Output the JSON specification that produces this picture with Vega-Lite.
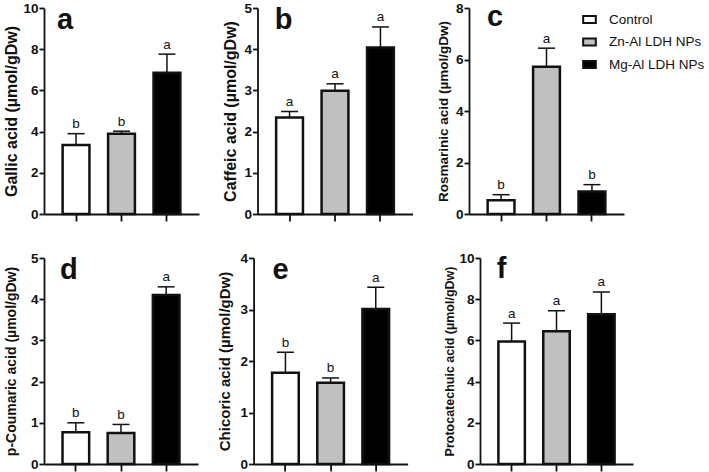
{
  "$schema": "https://vega.github.io/schema/vega-lite/v6.json",
  "padding": {"left": 3, "top": 1, "right": 0, "bottom": 0},
  "background": "white",
  "datasets": {
    "bars": [
      {"panel": "a", "group": "Control", "mean": 3.35, "upper": 3.9, "letter": "b"},
      {"panel": "a", "group": "Zn-Al LDH NPs", "mean": 3.9, "upper": 4.02, "letter": "b"},
      {"panel": "a", "group": "Mg-Al LDH NPs", "mean": 6.86, "upper": 7.76, "letter": "a"},
      {"panel": "b", "group": "Control", "mean": 2.34, "upper": 2.49, "letter": "a"},
      {"panel": "b", "group": "Zn-Al LDH NPs", "mean": 2.99, "upper": 3.16, "letter": "a"},
      {"panel": "b", "group": "Mg-Al LDH NPs", "mean": 4.04, "upper": 4.54, "letter": "a"},
      {"panel": "c", "group": "Control", "mean": 0.53, "upper": 0.75, "letter": "b"},
      {"panel": "c", "group": "Zn-Al LDH NPs", "mean": 5.72, "upper": 6.44, "letter": "a"},
      {"panel": "c", "group": "Mg-Al LDH NPs", "mean": 0.87, "upper": 1.14, "letter": "b"},
      {"panel": "d", "group": "Control", "mean": 0.77, "upper": 1.0, "letter": "b"},
      {"panel": "d", "group": "Zn-Al LDH NPs", "mean": 0.75, "upper": 0.96, "letter": "b"},
      {"panel": "d", "group": "Mg-Al LDH NPs", "mean": 4.1, "upper": 4.3, "letter": "a"},
      {"panel": "e", "group": "Control", "mean": 1.77, "upper": 2.17, "letter": "b"},
      {"panel": "e", "group": "Zn-Al LDH NPs", "mean": 1.58, "upper": 1.67, "letter": "b"},
      {"panel": "e", "group": "Mg-Al LDH NPs", "mean": 3.01, "upper": 3.43, "letter": "a"},
      {"panel": "f", "group": "Control", "mean": 5.95, "upper": 6.84, "letter": "a"},
      {"panel": "f", "group": "Zn-Al LDH NPs", "mean": 6.45, "upper": 7.44, "letter": "a"},
      {"panel": "f", "group": "Mg-Al LDH NPs", "mean": 7.27, "upper": 8.35, "letter": "a"}
    ]
  },
  "spacing": 29,
  "vconcat": [
    {
      "hconcat": [
        {
          "width": 155, "height": 206,
          "encoding": {"x": {"field": "group", "type": "nominal", "sort": ["Control", "Zn-Al LDH NPs", "Mg-Al LDH NPs"], "title": null, "scale": {"paddingInner": 0.41, "paddingOuter": 0.41}, "axis": {"labels": false}}},
          "layer": [
            {"data": {"name": "bars"}, "transform": [{"filter": "datum.panel == 'a'"}],
             "mark": {"type": "bar", "stroke": "#111", "strokeWidth": 2.5},
             "encoding": {"y": {"field": "mean", "type": "quantitative", "title": "Gallic acid (µmol/gDw)", "scale": {"domain": [0, 10], "nice": false}, "axis": {"values": [0, 2, 4, 6, 8, 10], "titleFontSize": 16, "titlePadding": 3}},
                          "fill": {"field": "group", "type": "nominal", "sort": ["Control", "Zn-Al LDH NPs", "Mg-Al LDH NPs"], "scale": {"domain": ["Control", "Zn-Al LDH NPs", "Mg-Al LDH NPs"], "range": ["#ffffff", "#c0c0c0", "#000000"]}, "legend": {"title": null}}}},
            {"data": {"name": "bars"}, "transform": [{"filter": "datum.panel == 'a'"}],
             "mark": {"type": "rule", "strokeWidth": 1.5, "color": "#111"},
             "encoding": {"y": {"field": "mean", "type": "quantitative", "title": "Gallic acid (µmol/gDw)"}, "y2": {"field": "upper"}}},
            {"data": {"name": "bars"}, "transform": [{"filter": "datum.panel == 'a'"}],
             "mark": {"type": "tick", "thickness": 1.5, "size": 17, "color": "#111", "opacity": 1},
             "encoding": {"y": {"field": "upper", "type": "quantitative", "title": "Gallic acid (µmol/gDw)"}}},
            {"data": {"name": "bars"}, "transform": [{"filter": "datum.panel == 'a'"}],
             "mark": {"type": "text", "fontSize": 13.5, "baseline": "alphabetic", "dy": -5.5, "color": "#111"},
             "encoding": {"y": {"field": "upper", "type": "quantitative", "title": "Gallic acid (µmol/gDw)"}, "text": {"field": "letter"}}},
            {"data": {"values": [{"label": "a"}]},
             "mark": {"type": "text", "fontSize": 29, "fontWeight": "bold", "baseline": "alphabetic", "dy": 21, "dx": -11, "color": "#111"},
             "encoding": {"x": {"datum": "Control"}, "y": {"datum": 10, "type": "quantitative", "title": "Gallic acid (µmol/gDw)"}, "text": {"field": "label"}}}
          ]
        },
        {
          "width": 155, "height": 206,
          "encoding": {"x": {"field": "group", "type": "nominal", "sort": ["Control", "Zn-Al LDH NPs", "Mg-Al LDH NPs"], "title": null, "scale": {"paddingInner": 0.41, "paddingOuter": 0.41}, "axis": {"labels": false}}},
          "layer": [
            {"data": {"name": "bars"}, "transform": [{"filter": "datum.panel == 'b'"}],
             "mark": {"type": "bar", "stroke": "#111", "strokeWidth": 2.5},
             "encoding": {"y": {"field": "mean", "type": "quantitative", "title": "Caffeic acid (µmol/gDw)", "scale": {"domain": [0, 5], "nice": false}, "axis": {"values": [0, 1, 2, 3, 4, 5], "titleFontSize": 16, "titlePadding": 5}},
                          "fill": {"field": "group", "type": "nominal", "sort": ["Control", "Zn-Al LDH NPs", "Mg-Al LDH NPs"], "legend": {"title": null}}}},
            {"data": {"name": "bars"}, "transform": [{"filter": "datum.panel == 'b'"}],
             "mark": {"type": "rule", "strokeWidth": 1.5, "color": "#111"},
             "encoding": {"y": {"field": "mean", "type": "quantitative", "title": "Caffeic acid (µmol/gDw)"}, "y2": {"field": "upper"}}},
            {"data": {"name": "bars"}, "transform": [{"filter": "datum.panel == 'b'"}],
             "mark": {"type": "tick", "thickness": 1.5, "size": 17, "color": "#111", "opacity": 1},
             "encoding": {"y": {"field": "upper", "type": "quantitative", "title": "Caffeic acid (µmol/gDw)"}}},
            {"data": {"name": "bars"}, "transform": [{"filter": "datum.panel == 'b'"}],
             "mark": {"type": "text", "fontSize": 13.5, "baseline": "alphabetic", "dy": -5.5, "color": "#111"},
             "encoding": {"y": {"field": "upper", "type": "quantitative", "title": "Caffeic acid (µmol/gDw)"}, "text": {"field": "letter"}}},
            {"data": {"values": [{"label": "b"}]},
             "mark": {"type": "text", "fontSize": 29, "fontWeight": "bold", "baseline": "alphabetic", "dy": 21, "dx": -6, "color": "#111"},
             "encoding": {"x": {"datum": "Control"}, "y": {"datum": 5, "type": "quantitative", "title": "Caffeic acid (µmol/gDw)"}, "text": {"field": "label"}}}
          ]
        },
        {
          "width": 155, "height": 206,
          "encoding": {"x": {"field": "group", "type": "nominal", "sort": ["Control", "Zn-Al LDH NPs", "Mg-Al LDH NPs"], "title": null, "scale": {"paddingInner": 0.41, "paddingOuter": 0.41}, "axis": {"labels": false}}},
          "layer": [
            {"data": {"name": "bars"}, "transform": [{"filter": "datum.panel == 'c'"}],
             "mark": {"type": "bar", "stroke": "#111", "strokeWidth": 2.5},
             "encoding": {"y": {"field": "mean", "type": "quantitative", "title": "Rosmarinic acid (µmol/gDw)", "scale": {"domain": [0, 8], "nice": false}, "axis": {"values": [0, 2, 4, 6, 8], "titleFontSize": 13.5, "titlePadding": 5}},
                          "fill": {"field": "group", "type": "nominal", "sort": ["Control", "Zn-Al LDH NPs", "Mg-Al LDH NPs"], "legend": {"title": null}}}},
            {"data": {"name": "bars"}, "transform": [{"filter": "datum.panel == 'c'"}],
             "mark": {"type": "rule", "strokeWidth": 1.5, "color": "#111"},
             "encoding": {"y": {"field": "mean", "type": "quantitative", "title": "Rosmarinic acid (µmol/gDw)"}, "y2": {"field": "upper"}}},
            {"data": {"name": "bars"}, "transform": [{"filter": "datum.panel == 'c'"}],
             "mark": {"type": "tick", "thickness": 1.5, "size": 17, "color": "#111", "opacity": 1},
             "encoding": {"y": {"field": "upper", "type": "quantitative", "title": "Rosmarinic acid (µmol/gDw)"}}},
            {"data": {"name": "bars"}, "transform": [{"filter": "datum.panel == 'c'"}],
             "mark": {"type": "text", "fontSize": 13.5, "baseline": "alphabetic", "dy": -5.5, "color": "#111"},
             "encoding": {"y": {"field": "upper", "type": "quantitative", "title": "Rosmarinic acid (µmol/gDw)"}, "text": {"field": "letter"}}},
            {"data": {"values": [{"label": "c"}]},
             "mark": {"type": "text", "fontSize": 29, "fontWeight": "bold", "baseline": "alphabetic", "dy": 18, "dx": -6, "color": "#111"},
             "encoding": {"x": {"datum": "Control"}, "y": {"datum": 8, "type": "quantitative", "title": "Rosmarinic acid (µmol/gDw)"}, "text": {"field": "label"}}}
          ]
        }
      ],
      "spacing": 23.5
    },
    {
      "hconcat": [
        {
          "hconcat": [
            {
              "width": 154, "height": 206,
              "encoding": {"x": {"field": "group", "type": "nominal", "sort": ["Control", "Zn-Al LDH NPs", "Mg-Al LDH NPs"], "title": null, "scale": {"paddingInner": 0.41, "paddingOuter": 0.41}, "axis": {"labels": false}}},
              "layer": [
                {"data": {"name": "bars"}, "transform": [{"filter": "datum.panel == 'd'"}],
                 "mark": {"type": "bar", "stroke": "#111", "strokeWidth": 2.5},
                 "encoding": {"y": {"field": "mean", "type": "quantitative", "title": "p-Coumaric acid (µmol/gDw)", "scale": {"domain": [0, 5], "nice": false}, "axis": {"values": [0, 1, 2, 3, 4, 5], "titleFontSize": 14, "titlePadding": 12}},
                              "fill": {"field": "group", "type": "nominal", "sort": ["Control", "Zn-Al LDH NPs", "Mg-Al LDH NPs"], "legend": {"title": null}}}},
                {"data": {"name": "bars"}, "transform": [{"filter": "datum.panel == 'd'"}],
                 "mark": {"type": "rule", "strokeWidth": 1.5, "color": "#111"},
                 "encoding": {"y": {"field": "mean", "type": "quantitative", "title": "p-Coumaric acid (µmol/gDw)"}, "y2": {"field": "upper"}}},
                {"data": {"name": "bars"}, "transform": [{"filter": "datum.panel == 'd'"}],
                 "mark": {"type": "tick", "thickness": 1.5, "size": 17, "color": "#111", "opacity": 1},
                 "encoding": {"y": {"field": "upper", "type": "quantitative", "title": "p-Coumaric acid (µmol/gDw)"}}},
                {"data": {"name": "bars"}, "transform": [{"filter": "datum.panel == 'd'"}],
                 "mark": {"type": "text", "fontSize": 13.5, "baseline": "alphabetic", "dy": -5.5, "color": "#111"},
                 "encoding": {"y": {"field": "upper", "type": "quantitative", "title": "p-Coumaric acid (µmol/gDw)"}, "text": {"field": "letter"}}},
                {"data": {"values": [{"label": "d"}]},
                 "mark": {"type": "text", "fontSize": 29, "fontWeight": "bold", "baseline": "alphabetic", "dy": 21, "dx": -7, "color": "#111"},
                 "encoding": {"x": {"datum": "Control"}, "y": {"datum": 5, "type": "quantitative", "title": "p-Coumaric acid (µmol/gDw)"}, "text": {"field": "label"}}}
              ]
            },
            {
              "width": 154, "height": 206,
              "encoding": {"x": {"field": "group", "type": "nominal", "sort": ["Control", "Zn-Al LDH NPs", "Mg-Al LDH NPs"], "title": null, "scale": {"paddingInner": 0.41, "paddingOuter": 0.41}, "axis": {"labels": false}}},
              "layer": [
                {"data": {"name": "bars"}, "transform": [{"filter": "datum.panel == 'e'"}],
                 "mark": {"type": "bar", "stroke": "#111", "strokeWidth": 2.5},
                 "encoding": {"y": {"field": "mean", "type": "quantitative", "title": "Chicoric acid (µmol/gDw)", "scale": {"domain": [0, 4], "nice": false}, "axis": {"values": [0, 1, 2, 3, 4], "format": "d", "titleFontSize": 15, "titlePadding": 8}},
                              "fill": {"field": "group", "type": "nominal", "sort": ["Control", "Zn-Al LDH NPs", "Mg-Al LDH NPs"], "legend": {"title": null}}}},
                {"data": {"name": "bars"}, "transform": [{"filter": "datum.panel == 'e'"}],
                 "mark": {"type": "rule", "strokeWidth": 1.5, "color": "#111"},
                 "encoding": {"y": {"field": "mean", "type": "quantitative", "title": "Chicoric acid (µmol/gDw)"}, "y2": {"field": "upper"}}},
                {"data": {"name": "bars"}, "transform": [{"filter": "datum.panel == 'e'"}],
                 "mark": {"type": "tick", "thickness": 1.5, "size": 17, "color": "#111", "opacity": 1},
                 "encoding": {"y": {"field": "upper", "type": "quantitative", "title": "Chicoric acid (µmol/gDw)"}}},
                {"data": {"name": "bars"}, "transform": [{"filter": "datum.panel == 'e'"}],
                 "mark": {"type": "text", "fontSize": 13.5, "baseline": "alphabetic", "dy": -5.5, "color": "#111"},
                 "encoding": {"y": {"field": "upper", "type": "quantitative", "title": "Chicoric acid (µmol/gDw)"}, "text": {"field": "letter"}}},
                {"data": {"values": [{"label": "e"}]},
                 "mark": {"type": "text", "fontSize": 29, "fontWeight": "bold", "baseline": "alphabetic", "dy": 21, "dx": -5, "color": "#111"},
                 "encoding": {"x": {"datum": "Control"}, "y": {"datum": 4, "type": "quantitative", "title": "Chicoric acid (µmol/gDw)"}, "text": {"field": "label"}}}
              ]
            }
          ],
          "spacing": 18.6
        },
        {
          "width": 153, "height": 206,
          "encoding": {"x": {"field": "group", "type": "nominal", "sort": ["Control", "Zn-Al LDH NPs", "Mg-Al LDH NPs"], "title": null, "scale": {"paddingInner": 0.41, "paddingOuter": 0.41}, "axis": {"labels": false}}},
          "layer": [
            {"data": {"name": "bars"}, "transform": [{"filter": "datum.panel == 'f'"}],
             "mark": {"type": "bar", "stroke": "#111", "strokeWidth": 2.5},
             "encoding": {"y": {"field": "mean", "type": "quantitative", "title": "Protocatechuic acid (µmol/gDw)", "scale": {"domain": [0, 10], "nice": false}, "axis": {"values": [0, 2, 4, 6, 8, 10], "titleFontSize": 12.5, "titlePadding": 2}},
                          "fill": {"field": "group", "type": "nominal", "sort": ["Control", "Zn-Al LDH NPs", "Mg-Al LDH NPs"], "legend": {"title": null}}}},
            {"data": {"name": "bars"}, "transform": [{"filter": "datum.panel == 'f'"}],
             "mark": {"type": "rule", "strokeWidth": 1.5, "color": "#111"},
             "encoding": {"y": {"field": "mean", "type": "quantitative", "title": "Protocatechuic acid (µmol/gDw)"}, "y2": {"field": "upper"}}},
            {"data": {"name": "bars"}, "transform": [{"filter": "datum.panel == 'f'"}],
             "mark": {"type": "tick", "thickness": 1.5, "size": 17, "color": "#111", "opacity": 1},
             "encoding": {"y": {"field": "upper", "type": "quantitative", "title": "Protocatechuic acid (µmol/gDw)"}}},
            {"data": {"name": "bars"}, "transform": [{"filter": "datum.panel == 'f'"}],
             "mark": {"type": "text", "fontSize": 13.5, "baseline": "alphabetic", "dy": -5.5, "color": "#111"},
             "encoding": {"y": {"field": "upper", "type": "quantitative", "title": "Protocatechuic acid (µmol/gDw)"}, "text": {"field": "letter"}}},
            {"data": {"values": [{"label": "f"}]},
             "mark": {"type": "text", "fontSize": 29, "fontWeight": "bold", "baseline": "alphabetic", "dy": 20, "dx": -10, "color": "#111"},
             "encoding": {"x": {"datum": "Control"}, "y": {"datum": 10, "type": "quantitative", "title": "Protocatechuic acid (µmol/gDw)"}, "text": {"field": "label"}}}
          ]
        }
      ],
      "spacing": 35
    }
  ],
  "config": {
    "view": {"stroke": null},
    "font": "Liberation Sans",
    "axis": {"domainColor": "#111", "domainWidth": 1.8, "tickColor": "#111", "tickWidth": 1.8, "grid": false, "labelColor": "#111", "titleColor": "#111", "labelFont": "Liberation Sans", "titleFont": "Liberation Sans", "labelFontWeight": "bold", "labelFontSize": 13.5},
    "axisY": {"labelFontWeight": "bold", "labelFontSize": 13.5, "tickSize": 5, "labelPadding": 1, "titleFontWeight": "bold"},
    "axisX": {"tickSize": 7, "labels": false},
    "legend": {"orient": "none", "legendX": 538, "legendY": 4, "padding": 0, "symbolType": "M-1,-0.55L1,-0.55L1,0.55L-1,0.55Z", "symbolSize": 160, "symbolStrokeColor": "#111", "symbolStrokeWidth": 2, "labelFontSize": 13.5, "labelFont": "Liberation Sans", "labelColor": "#111", "rowPadding": 7.5, "labelOffset": 12}
  }
}
